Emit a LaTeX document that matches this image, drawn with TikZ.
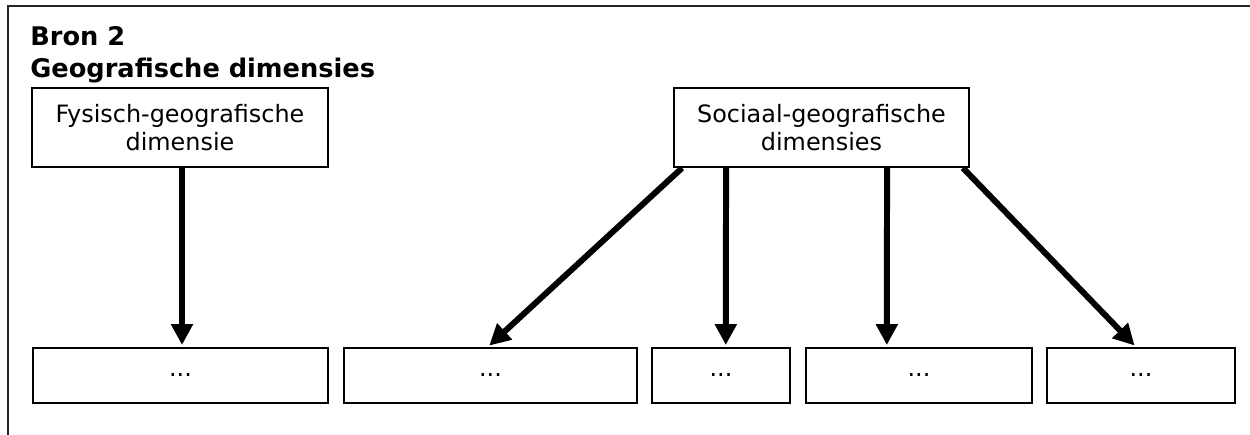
\documentclass[tikz,border=0pt]{standalone}
\usepackage{fontspec}
\setmainfont{DejaVu Sans}
\usetikzlibrary{arrows.meta,calc}
\begin{document}
\begin{tikzpicture}[x=0.02cm,y=-0.02cm,
  titletext/.style={anchor=base west,inner sep=0pt,font=\bfseries\fontsize{14.6pt}{18pt}\selectfont},
  topbox/.style={draw,line width=1.1pt,inner sep=0pt,align=center,font=\fontsize{13.6pt}{16.4pt}\selectfont},
  botbox/.style={draw,line width=1.4pt,inner sep=0pt,minimum height=1.1cm,font=\fontsize{13.6pt}{16.4pt}\selectfont},
  arr/.style={line width=3.4pt,-{Triangle[length=0.42cm,width=0.42cm]},shorten >=1pt}]
\useasboundingbox (0,0) rectangle (1250,434);
\begin{scope}
\clip (0,0) rectangle (1250,434);
\draw[line width=1.1pt,black!85] (8,6) rectangle (1280,470);
\end{scope}
\node[titletext] (t1) at (30,45) {Bron 2};
\node[titletext] (t2) at (30,77) {Geografische dimensies};
\node[topbox,minimum width=5.92cm,minimum height=1.58cm] (fys) at (180,127.5) {Fysisch-geografische\\dimensie};
\node[topbox,minimum width=5.9cm,minimum height=1.58cm] (soc) at (821.5,127.5) {Sociaal-geografische\\dimensies};
\node[botbox,minimum width=5.9cm] (b1) at (180.5,375.5) {...};
\node[botbox,minimum width=5.86cm] (b2) at (490.5,375.5) {...};
\node[botbox,minimum width=2.76cm] (b3) at (721,375.5) {...};
\node[botbox,minimum width=4.52cm] (b4) at (919,375.5) {...};
\node[botbox,minimum width=3.76cm] (b5) at (1141,375.5) {...};
\draw[arr] ($(fys.south)+(2,0)$) -- ($(b1.north)+(1.5,0)$);
\draw[arr] ($(soc.south west)+(9,0)$) -- ($(b2.north)+(-2.5,0)$);
\draw[arr] ($(soc.south west)+(53,0)$) -- ($(b3.north west)+(75,0)$);
\draw[arr] ($(soc.south west)+(214,0)$) -- ($(b4.north west)+(82,0)$);
\draw[arr] ($(soc.south east)+(-7,0)$) -- ($(b5.north west)+(90,0)$);
\end{tikzpicture}
\end{document}
